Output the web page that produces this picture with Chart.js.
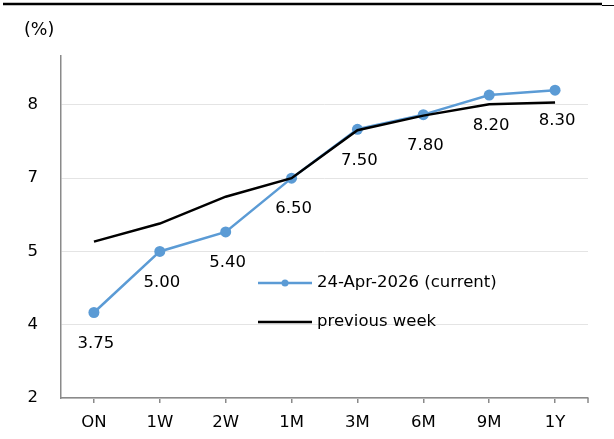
<!DOCTYPE html>
<html>
<head>
<meta charset="utf-8">
<script src="https://cdn.jsdelivr.net/npm/chart.js@4/dist/chart.umd.min.js"></script>
<style>
  html, body { margin: 0; padding: 0; background: #fff; }
  #wrap { position: relative; width: 614px; height: 439px; }
</style>
</head>
<body>
<div id="wrap"><canvas id="c" width="614" height="439"></canvas></div>
<script>
// Tenors on the curve
const tenors = ['ON', '1W', '2W', '1M', '3M', '6M', '9M', '1Y'];
// Current fixing (%)
const currentRates = [3.75, 5.00, 5.40, 6.50, 7.50, 7.80, 8.20, 8.30];
// Fixing one week earlier (%)
const previousRates = [5.20, 5.57, 6.12, 6.50, 7.48, 7.78, 8.01, 8.05];
// Gridline values on the rate axis
const rateTicks = [2, 3.5, 5, 6.5, 8];

const seriesNames = ['24-Apr-2026 (current)', 'previous week'];
const unitLabel = '(%)';

const BLUE = '#5B9BD5';
const FONT = 'DejaVu Sans';
const AXIS_GREY = '#8a8a8a';

// Value labels, legend, unit label and top rule
const decorations = {
  id: 'decorations',
  afterDatasetsDraw(chart) {
    const ctx = chart.ctx;
    const meta = chart.getDatasetMeta(1);
    ctx.save();
    ctx.font = '16.5px "' + FONT + '"';
    ctx.fillStyle = '#000';
    ctx.textAlign = 'center';
    ctx.textBaseline = 'middle';
    meta.data.forEach((pt, i) => {
      ctx.fillText(currentRates[i].toFixed(2), pt.x + 2, pt.y + 31);
    });
    ctx.restore();
  },
  afterDraw(chart) {
    const ctx = chart.ctx;
    const xs = chart.scales.x;
    ctx.save();
    // top rule
    ctx.strokeStyle = '#000';
    ctx.lineWidth = 2.5;
    ctx.beginPath(); ctx.moveTo(3, 4); ctx.lineTo(602, 4); ctx.stroke();
    ctx.lineWidth = 1;
    ctx.beginPath(); ctx.moveTo(602, 5.5); ctx.lineTo(614, 5.5); ctx.stroke();
    // closing tick at the right end of the category axis
    ctx.strokeStyle = AXIS_GREY;
    ctx.lineWidth = 1.5;
    ctx.beginPath(); ctx.moveTo(xs.right, xs.top); ctx.lineTo(xs.right, xs.top + 5); ctx.stroke();
    // unit label
    ctx.font = '17.5px "' + FONT + '"';
    ctx.fillStyle = '#000';
    ctx.textAlign = 'left';
    ctx.textBaseline = 'middle';
    ctx.fillText(unitLabel, 24, 30);
    // legend
    ctx.font = '16.5px "' + FONT + '"';
    const lx0 = 258, lx1 = 312, tx = 317;
    const y1 = 283, y2 = 322;
    ctx.strokeStyle = BLUE;
    ctx.lineWidth = 2.5;
    ctx.beginPath(); ctx.moveTo(lx0, y1); ctx.lineTo(lx1, y1); ctx.stroke();
    ctx.fillStyle = BLUE;
    ctx.beginPath(); ctx.arc((lx0 + lx1) / 2, y1, 3.5, 0, Math.PI * 2); ctx.fill();
    ctx.strokeStyle = '#000';
    ctx.beginPath(); ctx.moveTo(lx0, y2); ctx.lineTo(lx1, y2); ctx.stroke();
    ctx.fillStyle = '#000';
    ctx.fillText(seriesNames[0], tx, y1);
    ctx.fillText(seriesNames[1], tx, y2);
    ctx.restore();
  }
};

new Chart(document.getElementById('c'), {
  type: 'line',
  data: {
    labels: tenors,
    datasets: [
      {
        label: seriesNames[1],
        data: previousRates,
        borderColor: '#000',
        borderWidth: 2.5,
        pointRadius: 0,
        pointHoverRadius: 0,
        tension: 0,
        order: 0
      },
      {
        label: seriesNames[0],
        data: currentRates,
        borderColor: BLUE,
        backgroundColor: BLUE,
        borderWidth: 2.5,
        pointRadius: 5.5,
        pointBackgroundColor: BLUE,
        pointBorderWidth: 0,
        tension: 0,
        order: 1
      }
    ]
  },
  options: {
    responsive: false,
    animation: false,
    events: [],
    layout: { padding: { top: 56, right: 26, left: 0, bottom: 0 } },
    plugins: { legend: { display: false }, tooltip: { enabled: false } },
    scales: {
      x: {
        offset: true,
        afterFit(s) { s.height = 41; },
        grid: {
          offset: false,
          drawOnChartArea: false,
          drawTicks: true,
          tickLength: 5,
          color: AXIS_GREY,
          lineWidth: 1.5
        },
        border: { color: AXIS_GREY, width: 1.5 },
        ticks: {
          color: '#000',
          padding: 10,
          font: { family: FONT, size: 16.5 },
          maxRotation: 0
        }
      },
      y: {
        min: 2,
        max: 9,
        afterFit(s) { s.width = 61; },
        afterBuildTicks(s) { s.ticks = rateTicks.map(v => ({ value: v })); },
        grid: { color: '#e4e4e4', lineWidth: 1, drawTicks: false },
        border: { color: AXIS_GREY, width: 1.5 },
        ticks: {
          color: '#000',
          padding: 23,
          font: { family: FONT, size: 16.5 },
          callback: v => String(Math.round(v))
        }
      }
    }
  },
  plugins: [decorations]
});
</script>
</body>
</html>
